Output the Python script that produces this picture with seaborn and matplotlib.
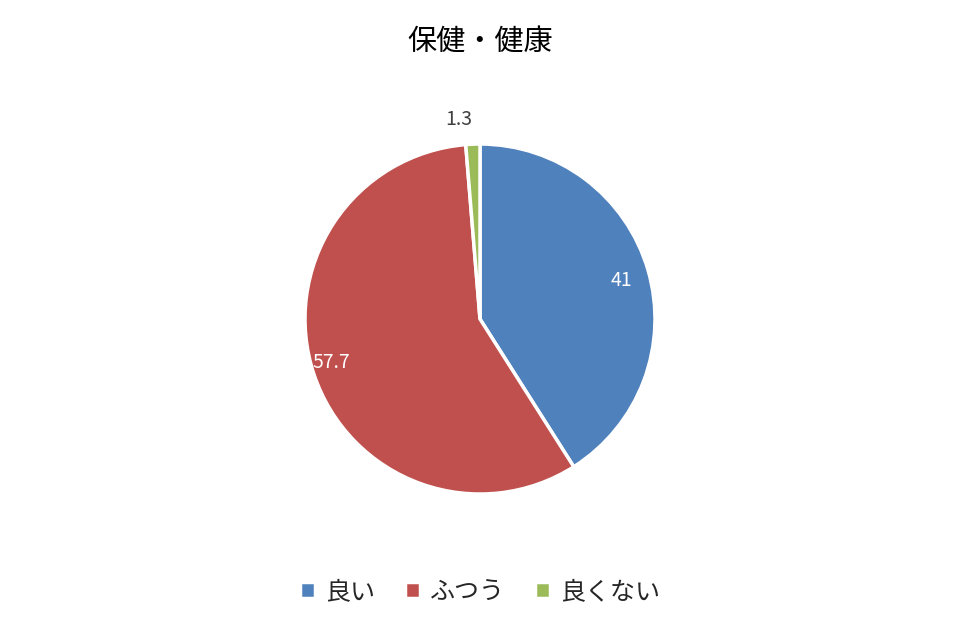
import matplotlib
matplotlib.use("Agg")
import matplotlib.pyplot as plt
import seaborn as sns
import numpy as np

categories = ["良い", "ふつう", "良くない"]
values = [41, 57.7, 1.3]
value_labels = ["41", "57.7", "1.3"]
colors = ["#4F81BD", "#C0504D", "#9BBB59"]

sns.set_theme(style="white")
plt.rcParams['font.family'] = ['Noto Sans CJK JP', 'DejaVu Sans']

fig = plt.figure(figsize=(9.6, 6.2), dpi=100)
ax = fig.add_axes([0.5 - 0.1823, 0.4855 - 0.2823, 0.3646, 0.5645])
wedges, texts = ax.pie(values, colors=colors, startangle=90, counterclock=False,
                       labels=value_labels, labeldistance=0.78,
                       wedgeprops=dict(edgecolor="white", linewidth=2.5),
                       textprops=dict(fontsize=14, color="white"))
for t, v in zip(texts, values):
    if v < 5:
        x, y = t.get_position()
        t.set_position((x / 0.78 * 1.14, y / 0.78 * 1.14))
        t.set_color("#404040")
ax.set_aspect("equal")
ax.set_xlim(-1, 1); ax.set_ylim(-1, 1)
ax.axis("off")

fig.text(0.5, 0.932, "保健・健康", ha="center", va="center", fontsize=21, color="#000000")
fig.legend(wedges, categories, loc="center", bbox_to_anchor=(0.5, 0.045), ncol=3,
           frameon=False, fontsize=18, handlelength=0.6, handleheight=0.6,
           columnspacing=1.2, handletextpad=0.4)
fig.savefig("out.png", dpi=100, facecolor="white")
